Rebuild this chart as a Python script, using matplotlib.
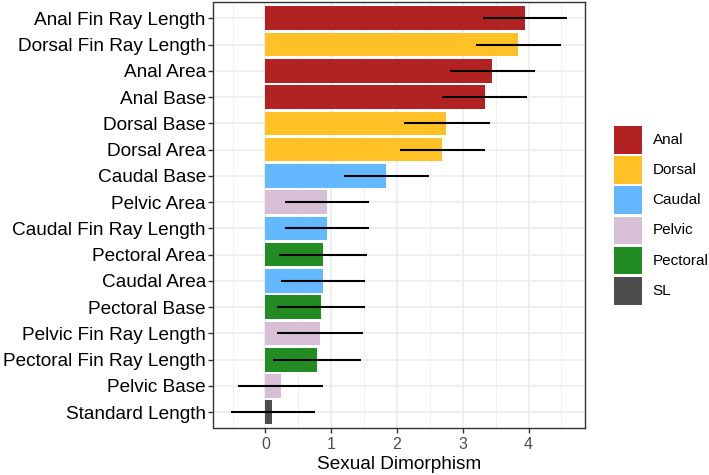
import matplotlib
matplotlib.use("Agg")
import matplotlib.pyplot as plt
from matplotlib.patches import Rectangle

plt.rcParams['font.family'] = ['Liberation Sans', 'DejaVu Sans']

traits = ["Anal Fin Ray Length", "Dorsal Fin Ray Length", "Anal Area", "Anal Base",
          "Dorsal Base", "Dorsal Area", "Caudal Base", "Pelvic Area",
          "Caudal Fin Ray Length", "Pectoral Area", "Caudal Area", "Pectoral Base",
          "Pelvic Fin Ray Length", "Pectoral Fin Ray Length", "Pelvic Base", "Standard Length"]
groups = ["Anal", "Dorsal", "Anal", "Anal", "Dorsal", "Dorsal", "Caudal", "Pelvic",
          "Caudal", "Pectoral", "Caudal", "Pectoral", "Pelvic", "Pectoral", "Pelvic", "SL"]
values = [3.94, 3.84, 3.45, 3.33, 2.75, 2.69, 1.83, 0.93,
          0.93, 0.87, 0.87, 0.84, 0.83, 0.78, 0.23, 0.10]
lower = [3.30, 3.20, 2.81, 2.68, 2.11, 2.05, 1.19, 0.29,
         0.29, 0.21, 0.23, 0.18, 0.18, 0.11, -0.41, -0.53]
upper = [4.59, 4.49, 4.10, 3.97, 3.41, 3.34, 2.48, 1.58,
         1.58, 1.54, 1.52, 1.51, 1.48, 1.45, 0.88, 0.76]

legend_groups = ["Anal", "Dorsal", "Caudal", "Pelvic", "Pectoral", "SL"]
group_colors = {"Anal": "#B22222", "Dorsal": "#FFC125", "Caudal": "#63B8FF",
                "Pelvic": "#D8BFD8", "Pectoral": "#228B22", "SL": "#4D4D4D"}

W, H = 709, 475
fig = plt.figure(figsize=(W / 100, H / 100), dpi=100)
left, right, top, bottom = 213.5, 584.5, 2.5, 428.0
ax = fig.add_axes([left / W, 1 - bottom / H, (right - left) / W, (bottom - top) / H])

n = len(traits)
ypos = [n - 1 - i for i in range(n)]
ax.barh(ypos, values, height=0.9, color=[group_colors[g] for g in groups], zorder=2)
ax.hlines(ypos, lower, upper, color="black", linewidth=1.5, zorder=3)

ax.set_xlim(-0.79, 4.85)
ax.set_ylim(-0.6, n - 0.4)
ax.set_xticks([0, 1, 2, 3, 4])
ax.set_xticks([-0.5, 0.5, 1.5, 2.5, 3.5, 4.5], minor=True)
ax.set_yticks(ypos)
ax.set_yticklabels(traits)
ax.grid(True, which="major", color="#EBEBEB", linewidth=1.1, zorder=0)
ax.grid(True, which="minor", axis="x", color="#EBEBEB", linewidth=0.55, zorder=0)
ax.set_axisbelow(True)
for s in ax.spines.values():
    s.set_color("#333333")
    s.set_linewidth(1.0)
ax.tick_params(axis="y", which="major", labelsize=13.7, labelcolor="black",
               color="#333333", length=3.5, width=1.0, pad=2)
ax.tick_params(axis="x", which="major", labelsize=11.5, labelcolor="#4D4D4D",
               color="#333333", length=3.5, width=1.0, pad=3)
ax.tick_params(axis="x", which="minor", length=0)
ax.set_xlabel("Sexual Dimorphism", fontsize=13.7, color="black", labelpad=3)

# legend
kx0, kx1 = 614.0, 642.0
ky0 = 126.0
step = 30.2
kh = 27.5
for i, g in enumerate(legend_groups):
    y0 = ky0 + i * step
    fig.add_artist(Rectangle((kx0 / W, 1 - (y0 + kh) / H), (kx1 - kx0) / W, kh / H,
                             transform=fig.transFigure, facecolor=group_colors[g],
                             edgecolor="none"))
    fig.text(652.5 / W, 1 - (y0 + kh / 2) / H, g, fontsize=11, color="black",
             ha="left", va="center")

fig.savefig("out.png", dpi=100)
